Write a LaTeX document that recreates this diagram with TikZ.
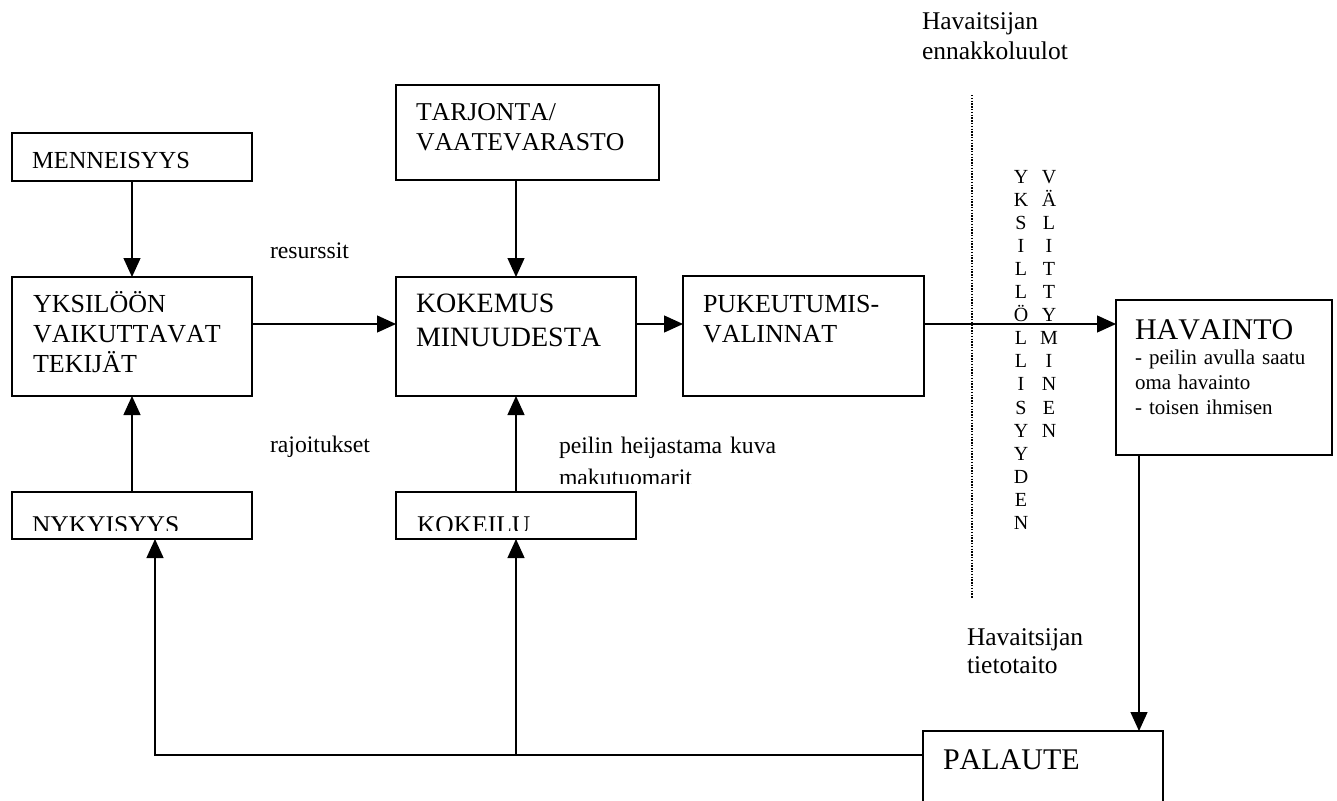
\documentclass[tikz,border=0pt]{standalone}
\usepackage{fontspec}
\setmainfont{Liberation Serif}[Kerning=Off]
\usetikzlibrary{arrows.meta}
\begin{document}
\begin{tikzpicture}[x=1pt,y=-1pt,
  every node/.style={inner sep=0pt, outer sep=0pt},
  box/.style={draw, line width=1.3pt, anchor=north west, align=left, inner ysep=0pt},
  lbl/.style={anchor=base west, align=left},
  vlet/.style={anchor=base, font=\fontsize{20}{23}\selectfont},
  arr/.style={line width=1.3pt, -{Triangle[length=19pt,width=17pt]}},
  ln/.style={line width=1.3pt},
  dots/.style={line width=1.2pt, dash pattern=on 1.4pt off 1.4pt}]
\useasboundingbox (0,0) rectangle (1337,800);
\clip (0,0) rectangle (1337,800);

% boxes
\node[box, inner xsep=20pt, text width=200pt, text height=35pt, text depth=13pt,
  font=\fontsize{24.5}{30}\selectfont] (men) at (12,133) {MENNEISYYS};
\node[box, inner xsep=21pt, text width=198pt, text height=35pt, text depth=84pt,
  font=\fontsize{26}{30}\selectfont] (yks) at (12,277) {YKSILÖÖN\\VAIKUTTAVAT\\TEKIJÄT};
\node[box, inner xsep=20pt, text width=223pt, text height=35pt, text depth=60pt,
  font=\fontsize{25.7}{30}\selectfont] (tar) at (396,85) {TARJONTA/\\VAATEVARASTO};
\node[box, inner xsep=20pt, text width=200pt, text height=35pt, text depth=84pt,
  font=\fontsize{28}{34}\selectfont] (kok) at (396,277) {KOKEMUS\\MINUUDESTA};
\node[box, inner xsep=20pt, text width=201pt, text height=36pt, text depth=84pt,
  font=\fontsize{26}{30}\selectfont] (puk) at (683,276) {PUKEUTUMIS-\\VALINNAT};
\node[box, inner xsep=19pt, text width=178pt, text height=39pt, text depth=116pt,
  font=\fontsize{21}{25}\selectfont] (hav) at (1116,300)
  {{\fontsize{30}{25}\selectfont HAVAINTO}\\- peilin avulla saatu\\oma havainto\\- toisen ihmisen};
\node[box, inner xsep=20pt, text width=200pt, text height=38pt, text depth=62pt,
  font=\fontsize{30}{34}\selectfont] (pal) at (923,731) {PALAUTE};

\begin{scope}
  \clip (0,0) rectangle (1337,530) (0,537.8) rectangle (1337,800)
        (0,529) rectangle (13,538) (251,529) rectangle (397,538) (635,529) rectangle (1337,538);
  \node[box, inner xsep=20pt, text width=200pt, text height=41pt, text depth=6pt,
    font=\fontsize{25.5}{30}\selectfont] (nyk) at (12,492) {NYKYISYYS};
  \node[box, inner xsep=21pt, text width=198pt, text height=41pt, text depth=6pt,
    font=\fontsize{25.5}{30}\selectfont] (koke) at (396,492) {KOKEILU};
\end{scope}

% labels
\node[lbl, font=\fontsize{23.7}{30}\selectfont] (res) at (270,258) {resurssit};
\node[lbl, font=\fontsize{23.7}{30}\selectfont] (raj) at (270,452) {rajoitukset};
\begin{scope}
  \clip (0,0) rectangle (1337,483.5);
  \node[lbl, text width=300pt, font=\fontsize{23.7}{32}\selectfont] (pei) at (559,453)
    {peilin heijastama kuva\\makutuomarit};
\end{scope}
\node[lbl, text width=200pt, font=\fontsize{25.5}{30}\selectfont] (enn) at (922,30)
  {Havaitsijan\\ennakkoluulot};
\node[lbl, text width=200pt, font=\fontsize{25.5}{28}\selectfont] (tie) at (967,645)
  {Havaitsijan\\tietotaito};

% vertical words
\foreach \l [count=\i] in {Y,K,S,I,L,L,Ö,L,L,I,S,Y,Y,D,E,N}
  \node[vlet] (ya\i) at (1021,{183+23.1*(\i-1)}) {\l};
\foreach \l [count=\i] in {V,Ä,L,I,T,T,Y,M,I,N,E,N}
  \node[vlet] (va\i) at (1049,{183+23.1*(\i-1)}) {\l};

% dotted separator
\coordinate (d1) at (972,95);
\coordinate (d2) at (972,598);
\draw[dots] (d1) -- (d2);

% connectors
\coordinate (row) at (0,324);
\coordinate (hx) at (1139,0);
\coordinate (fb) at (155,755);
\draw[arr] (men.south) -- (yks.north);
\draw[arr] (tar.south -| kok.north) -- (kok.north);
\draw[arr] (yks.east |- row) -- (kok.west |- row);
\draw[arr] (kok.east |- row) -- (puk.west |- row);
\draw[arr] (puk.east |- row) -- (hav.west |- row);
\draw[arr] (nyk.north) -- (yks.south);
\draw[arr] (koke.north) -- (kok.south);
\draw[arr] (hav.south -| hx) -- (pal.north -| hx);
\draw[arr] (pal.west |- fb) -- (fb) -- (nyk.south -| fb);
\draw[arr] (koke.south |- fb) -- (koke.south);
\end{tikzpicture}
\end{document}
